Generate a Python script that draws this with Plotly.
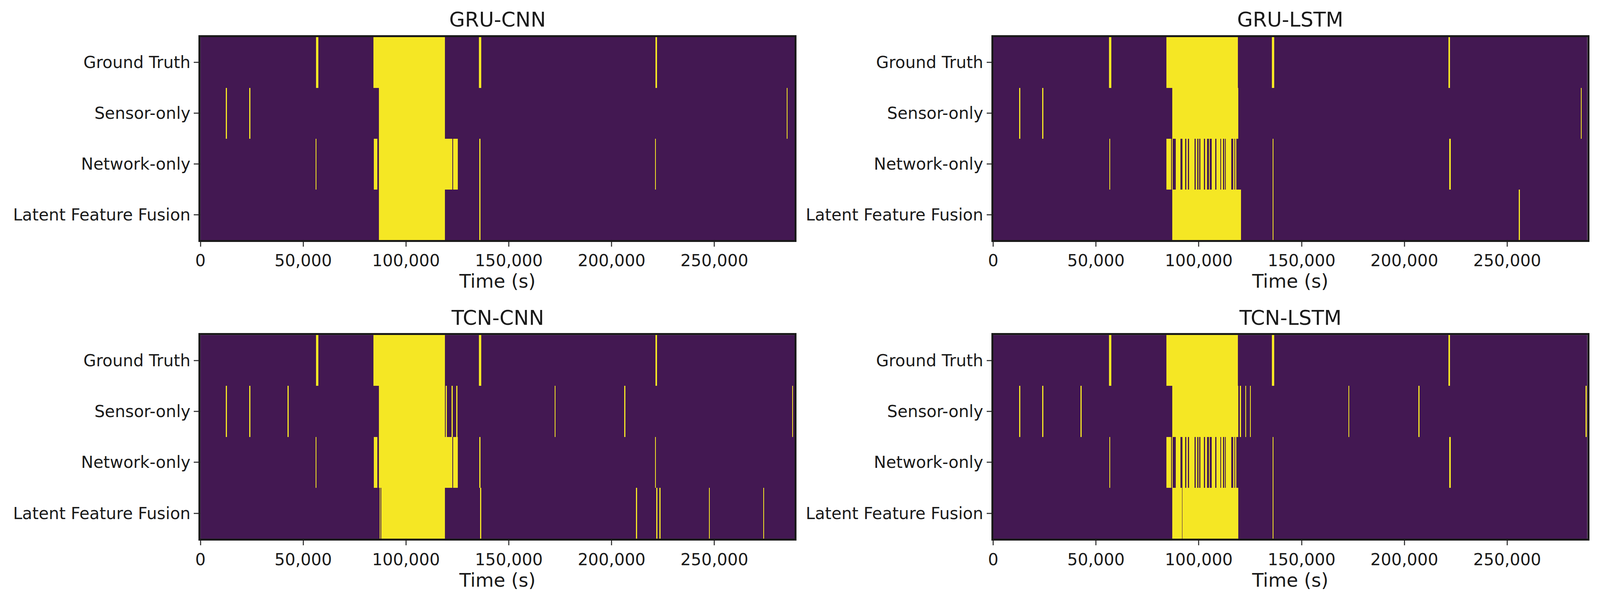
import plotly.graph_objects as go

models = ["GRU-CNN", "GRU-LSTM", "TCN-CNN", "TCN-LSTM"]
rows = ["Ground Truth", "Sensor-only", "Network-only", "Latent Feature Fusion"]
x_max = 289000

# intervals in kiloseconds (start, end)
ground_truth = [(56.2, 57.4), (84.2, 118.9), (135.4, 136.6), (221.4, 222.1)]

gru_cnn_sensor = [(12.5, 12.8), (23.9, 24.2), (86.9, 118.9), (285.3, 285.6)]
gru_cnn_network = [(56.1, 56.4), (84.4, 86.1), (86.9, 122.5), (123.0, 125.2), (135.8, 136.1), (221.2, 221.5)]
gru_cnn_latent = [(86.9, 118.9), (135.8, 136.1)]

lstm_network = [(56.5, 56.9), (84.2, 86.4), (86.8, 87.3), (88.7, 91.0), (92.0, 93.3), (93.8, 94.7),
                (95.2, 97.9), (98.4, 99.2), (99.8, 100.2), (100.7, 102.5), (103.0, 103.9),
                (104.8, 105.3), (106.2, 108.0), (108.5, 110.3), (110.8, 111.7), (112.2, 112.6),
                (113.1, 115.8), (116.7, 117.2), (117.6, 118.1), (135.9, 136.2), (221.8, 222.5)]

gru_lstm_sensor = [(12.7, 13.0), (23.9, 24.2), (87.0, 119.1), (285.8, 286.1)]
gru_lstm_latent = [(87.0, 120.4), (135.9, 136.2), (255.7, 256.0)]

tcn_cnn_sensor = [(12.5, 12.8), (23.9, 24.2), (42.5, 42.8), (86.9, 118.9), (119.4, 119.8),
                  (122.3, 122.6), (124.6, 124.9), (172.4, 172.7), (206.3, 206.6), (287.8, 288.2)]
tcn_cnn_network = [(56.1, 56.4), (84.4, 86.1), (86.9, 122.5), (123.0, 125.2), (135.8, 136.1), (221.2, 221.5)]
tcn_cnn_latent = [(87.3, 87.6), (87.9, 118.9), (136.0, 136.6), (212.0, 212.3), (221.9, 222.2),
                  (223.4, 223.7), (247.4, 247.7), (273.9, 274.2)]

tcn_lstm_sensor = [(12.7, 13.0), (23.9, 24.2), (42.5, 42.8), (87.0, 119.1), (119.9, 120.5),
                   (122.6, 122.9), (124.9, 125.2), (172.8, 173.1), (206.9, 207.2), (288.2, 288.5)]
tcn_lstm_latent = [(87.0, 91.7), (91.9, 119.1), (135.9, 136.2)]

model_data = {
    "GRU-CNN": [ground_truth, gru_cnn_sensor, gru_cnn_network, gru_cnn_latent],
    "GRU-LSTM": [ground_truth, gru_lstm_sensor, lstm_network, gru_lstm_latent],
    "TCN-CNN": [ground_truth, tcn_cnn_sensor, tcn_cnn_network, tcn_cnn_latent],
    "TCN-LSTM": [ground_truth, tcn_lstm_sensor, lstm_network, tcn_lstm_latent],
}

PURPLE = "#431852"
YELLOW = "#f5e724"
FONT = "DejaVu Sans"

xdoms = [[0.121, 0.495], [0.620, 0.994]]
ydoms = [[0.601, 0.943], [0.098, 0.441]]

fig = go.Figure()
layout = {}
annotations = []
for i, m in enumerate(models):
    r, c = divmod(i, 2)
    n = i + 1
    xa = "x" if n == 1 else f"x{n}"
    ya = "y" if n == 1 else f"y{n}"
    ys, xs, bases = [], [], []
    for row, ivs in zip(rows, model_data[m]):
        for s, e in ivs:
            ys.append(row)
            bases.append(s * 1000)
            xs.append(max((e - s) * 1000, 350))
    fig.add_trace(go.Bar(orientation="h", y=ys, x=xs, base=bases, width=1.0,
                         marker=dict(color=YELLOW, line=dict(width=0)),
                         xaxis=xa, yaxis=ya, showlegend=False, hoverinfo="skip"))
    key = "" if n == 1 else str(n)
    layout["xaxis" + key] = dict(
        domain=xdoms[c], anchor=ya, range=[0, x_max], tickvals=[0, 50000, 100000, 150000, 200000, 250000],
        ticktext=["0", "50,000", "100,000", "150,000", "200,000", "250,000"],
        ticks="outside", ticklen=12, tickwidth=3, showgrid=False, zeroline=False,
        showline=True, linecolor="#1a1a1a", linewidth=5, mirror=True,
        title=dict(text="Time (s)", font=dict(size=48, family=FONT, color="#1a1a1a"), standoff=6),
        tickfont=dict(size=42, family=FONT, color="#1a1a1a"))
    layout["yaxis" + key] = dict(
        domain=ydoms[r], anchor=xa, type="category", categoryorder="array",
        categoryarray=rows, range=[3.5, -0.5],
        ticks="outside", ticklen=12, tickwidth=3, showgrid=False, zeroline=False,
        showline=True, linecolor="#1a1a1a", linewidth=5, mirror=True,
        tickfont=dict(size=42, family=FONT, color="#1a1a1a"))
    annotations.append(dict(text=m, xref="paper", yref="paper",
                            x=sum(xdoms[c]) / 2, y=ydoms[r][1] + 0.008, xanchor="center", yanchor="bottom",
                            showarrow=False, font=dict(size=52, family=FONT, color="#1a1a1a")))

fig.update_layout(**layout)
fig.update_layout(autosize=True, paper_bgcolor="white", plot_bgcolor=PURPLE,
                  margin=dict(l=0, r=0, t=0, b=0), bargap=0, barmode="overlay",
                  annotations=annotations)
fig.write_html("out.html", default_width="100%", default_height="100%")
